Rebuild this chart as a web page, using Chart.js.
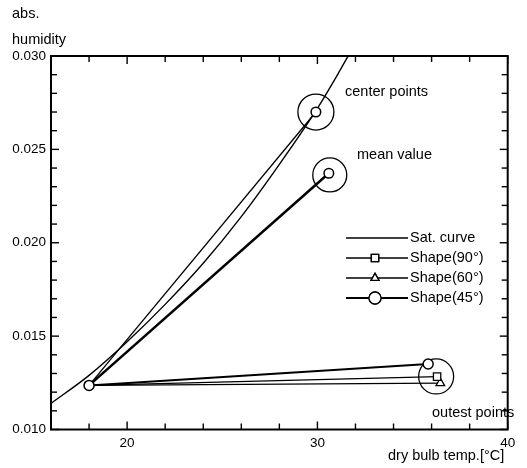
<!DOCTYPE html>
<html><head><meta charset="utf-8">
<script src="https://cdn.jsdelivr.net/npm/chart.js@4.4.0/dist/chart.umd.min.js"></script>
<style>html,body{margin:0;padding:0;background:#fff}#wrap{width:527px;height:468px;position:relative}</style>
</head><body><div id="wrap"><canvas id="c"></canvas></div>
<script>
// ---- data ----
const satTemp = [16, 18, 20, 22, 24, 26, 28, 30, 31, 32];
const satHum  = [0.0114, 0.0129, 0.0147, 0.0167, 0.0189, 0.0214, 0.0242, 0.0272, 0.0289, 0.0307];

const startTemp = [18.0];
const startHum  = [0.01236];

const centerTemp = [29.92];
const centerHum  = [0.0270];
const meanTemp   = [30.6];
const meanHum    = [0.02372];

const shapeNames   = ['Shape(90°)', 'Shape(60°)', 'Shape(45°)'];
const outestTemp   = [36.29, 36.46, 35.82];
const outestHum    = [0.01283, 0.01248, 0.01351];

const ringTemp = [29.92, 30.65, 36.24];
const ringHum  = [0.0270, 0.02363, 0.01284];

const xTickValues  = [16, 18, 20, 22, 24, 26, 28, 30, 32, 34, 36, 38, 40];
const xLabelValues = [20, 30, 40];
const yTickValues  = [0.010,0.011,0.012,0.013,0.014,0.015,0.016,0.017,0.018,0.019,0.020,0.021,0.022,0.023,0.024,0.025,0.026,0.027,0.028,0.029,0.030];
const yLabelValues = [0.010, 0.015, 0.020, 0.025, 0.030];

const FONT = '"Liberation Sans", Arial, Helvetica, sans-serif';

const pts = (xs, ys) => xs.map((x, i) => ({x, y: ys[i]}));
const seg = (i) => [{x: startTemp[0], y: startHum[0]}, {x: outestTemp[i], y: outestHum[i]}];

const datasets = [
  { // start point marker (top)
    data: pts(startTemp, startHum), showLine: false,
    pointStyle: 'circle', pointRadius: 5, pointBackgroundColor: '#fff', pointBorderColor: '#000', pointBorderWidth: 1.5
  },
  { // Shape 90 outest
    data: seg(0), showLine: true, borderColor: '#000', borderWidth: 1.3,
    pointStyle: 'rect', pointRadius: [0, 5.2], pointBackgroundColor: '#fff', pointBorderColor: '#000', pointBorderWidth: 1.3
  },
  { // Shape 60 outest
    data: seg(1), showLine: true, borderColor: '#000', borderWidth: 1.3,
    pointStyle: 'triangle', pointRadius: [0, 5], pointBackgroundColor: '#fff', pointBorderColor: '#000', pointBorderWidth: 1.3
  },
  { // Shape 45 outest
    data: seg(2), showLine: true, borderColor: '#000', borderWidth: 2,
    pointStyle: 'circle', pointRadius: [0, 5], pointBackgroundColor: '#fff', pointBorderColor: '#000', pointBorderWidth: 1.5
  },
  { // line to center point
    data: [{x: startTemp[0], y: startHum[0]}, ...pts(centerTemp, centerHum)], showLine: true, borderColor: '#000', borderWidth: 1.3,
    pointStyle: 'circle', pointRadius: [0, 4.8], pointBackgroundColor: '#fff', pointBorderColor: '#000', pointBorderWidth: 1.5
  },
  { // line to mean value
    data: [{x: startTemp[0], y: startHum[0]}, ...pts(meanTemp, meanHum)], showLine: true, borderColor: '#000', borderWidth: 2.5,
    pointStyle: 'circle', pointRadius: [0, 4.8], pointBackgroundColor: '#fff', pointBorderColor: '#000', pointBorderWidth: 1.5
  },
  { // highlight rings
    data: pts(ringTemp, ringHum), showLine: false,
    pointStyle: 'circle', pointRadius: [18, 17, 17.5], pointBackgroundColor: 'rgba(0,0,0,0)', pointBorderColor: '#000', pointBorderWidth: 1.3
  },
  { // saturation curve
    data: pts(satTemp, satHum), showLine: true, borderColor: '#000', borderWidth: 1.4,
    cubicInterpolationMode: 'monotone', pointRadius: 0
  }
];

const decor = {
  id: 'decor',
  afterDraw(chart) {
    const ctx = chart.ctx, a = chart.chartArea;
    const xs = chart.scales.x, ys = chart.scales.y;
    ctx.save();
    ctx.fillStyle = '#000';
    ctx.strokeStyle = '#000';
    // ticks (inward, all four sides)
    for (const v of xTickValues) {
      const px = xs.getPixelForValue(v);
      const L = xLabelValues.indexOf(v) >= 0 ? 8 : 6;
      ctx.fillRect(px - 0.7, a.bottom - L, 1.4, L);
      ctx.fillRect(px - 0.7, a.top, 1.4, L);
    }
    for (const v of yTickValues) {
      const py = ys.getPixelForValue(v);
      const L = yLabelValues.some(w => Math.abs(w - v) < 1e-9) ? 8 : 6;
      ctx.fillRect(a.left, py - 0.7, L, 1.4);
      ctx.fillRect(a.right - L, py - 0.7, L, 1.4);
    }
    // frame
    ctx.lineWidth = 2;
    ctx.strokeRect(a.left, a.top, a.right - a.left, a.bottom - a.top);

    // texts
    ctx.fillStyle = '#000';
    ctx.textBaseline = 'middle';
    ctx.textAlign = 'left';
    ctx.font = '14.5px ' + FONT;
    ctx.fillText('abs.', 12, 14);
    ctx.fillText('humidity', 12, 40);
    ctx.fillText('center points', 345, 92);
    ctx.fillText('mean value', 357, 155);
    ctx.fillText('outest points', 432, 413);
    ctx.fillText('dry bulb temp.[°C]', 388, 456);

    // legend
    const rows = [
      {label: 'Sat. curve', y: 238, style: null, w: 1.3},
      {label: shapeNames[0], y: 258, style: 'rect', w: 1.3, r: 5.2},
      {label: shapeNames[1], y: 278, style: 'triangle', w: 1.3, r: 4.6},
      {label: shapeNames[2], y: 298, style: 'circle', w: 2, r: 6}
    ];
    rows.forEach(row => {
      ctx.lineWidth = row.w;
      ctx.beginPath(); ctx.moveTo(346, row.y); ctx.lineTo(408, row.y); ctx.stroke();
      if (row.style) {
        ctx.fillStyle = '#fff';
        ctx.lineWidth = 1.3;
        Chart.helpers.drawPoint(ctx, {pointStyle: row.style, radius: row.r, borderWidth: 1.3, rotation: 0}, 375, row.y);
        ctx.fill(); ctx.stroke();
      }
      ctx.fillStyle = '#000';
      ctx.font = '14.5px ' + FONT;
      ctx.fillText(row.label, 410, row.y);
    });
    ctx.restore();
  }
};

new Chart(document.getElementById('c'), {
  type: 'scatter',
  data: { datasets },
  options: {
    responsive: true, maintainAspectRatio: false, animation: false,
    layout: { padding: { top: 56, right: 9, left: 0, bottom: 0 } },
    plugins: { legend: { display: false }, tooltip: { enabled: false } },
    scales: {
      x: {
        type: 'linear', min: 16, max: 40,
        afterBuildTicks: s => { s.ticks = xLabelValues.map(v => ({value: v})); },
        afterFit: s => { s.height = 38.5; },
        grid: { display: false, drawTicks: false },
        border: { display: false },
        ticks: { padding: 6, color: '#000', font: { family: FONT, size: 13.5 }, callback: v => String(v), maxRotation: 0 }
      },
      y: {
        type: 'linear', min: 0.010, max: 0.030,
        afterBuildTicks: s => { s.ticks = yLabelValues.map(v => ({value: v})); },
        afterFit: s => { s.width = 51; },
        grid: { display: false, drawTicks: false },
        border: { display: false },
        ticks: { padding: 5, color: '#000', font: { family: FONT, size: 13.5 }, callback: v => Number(v).toFixed(3) }
      }
    }
  },
  plugins: [decor]
});
</script>
</body></html>
